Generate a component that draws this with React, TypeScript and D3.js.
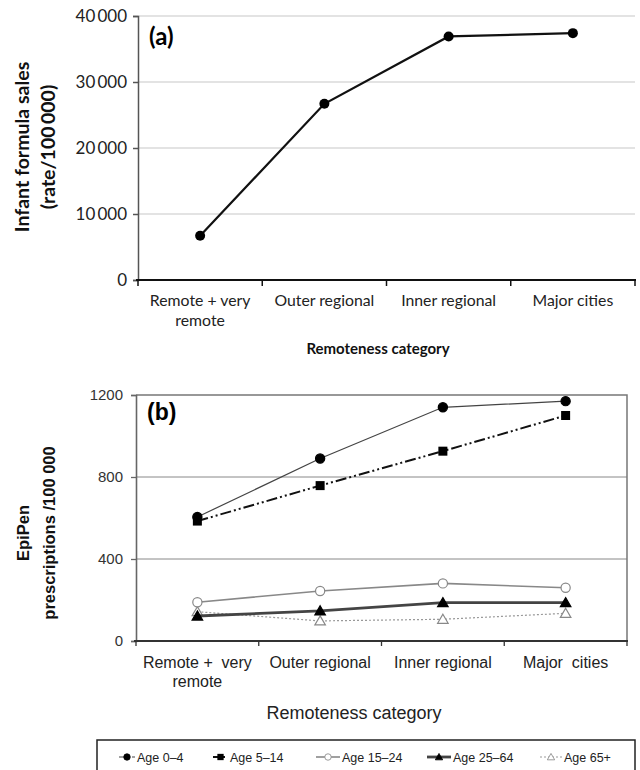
import React, { useEffect, useRef } from "react";
import * as d3 from "d3";

// Panel (a): infant formula sales by remoteness
const categories = ["Remote + very remote", "Outer regional", "Inner regional", "Major cities"];
const labelLinesA = [["Remote + very", "remote"], ["Outer regional"], ["Inner regional"], ["Major cities"]];
const labelLinesB = [["Remote +  very", "remote"], ["Outer regional"], ["Inner regional"], ["Major  cities"]];
const formulaSales = [6700, 26700, 36900, 37400];
const ticksA = [0, 10000, 20000, 30000, 40000];

// Panel (b): EpiPen prescriptions by age group
const ageGroups = ["Age 0–4", "Age 5–14", "Age 15–24", "Age 25–64", "Age 65+"];
const age0to4 = [605, 890, 1140, 1170];
const age5to14 = [585, 758, 926, 1100];
const age15to24 = [189, 244, 281, 260];
const age25to64 = [122, 147, 187, 187];
const age65plus = [143, 98, 106, 135];
const ticksB = [0, 400, 800, 1200];

const seriesB = [age0to4, age5to14, age15to24, age25to64, age65plus];

const styles = [
  { stroke: "#444", width: 1.2, dash: null, marker: "circle", fill: "#000", mstroke: "#000" },
  { stroke: "#111", width: 2, dash: "11,3,2,3,2,3", marker: "square", fill: "#000", mstroke: "#000" },
  { stroke: "#888", width: 1.6, dash: null, marker: "circle", fill: "#fff", mstroke: "#888" },
  { stroke: "#444", width: 2.8, dash: null, marker: "triangle", fill: "#000", mstroke: "#000" },
  { stroke: "#999", width: 1.2, dash: "2,2", marker: "triangle", fill: "#fff", mstroke: "#888" },
];

const calibri = "Lato, 'Open Sans', sans-serif";
const arial = "'Liberation Sans', Arial, sans-serif";

const App: React.FC = () => {
  const ref = useRef<SVGSVGElement>(null);

  useEffect(() => {
    if (!ref.current) return;
    const svg = d3.select(ref.current);
    svg.selectAll("*").remove();

    // ---------- panel (a)
    const xA = d3.scaleBand().domain(categories).range([138, 635]);
    const yA = d3.scaleLinear().domain([0, 40000]).range([280, 16]);
    const a = svg.append("g");

    a.selectAll("line.grid")
      .data(ticksA.slice(1))
      .enter()
      .append("line")
      .attr("x1", 138)
      .attr("x2", 635)
      .attr("y1", (d) => yA(d))
      .attr("y2", (d) => yA(d))
      .attr("stroke", "#c8c8c8")
      .attr("stroke-width", 1.2);

    const axA = a
      .append("g")
      .attr("transform", "translate(138,0)")
      .call(
        d3
          .axisLeft(yA)
          .tickValues(ticksA)
          .tickSize(5)
          .tickPadding(6)
          .tickFormat((d) => d3.format(",")(d as number).replace(",", "\u2009"))
      );
    axA.select(".domain").attr("stroke", "#555").attr("stroke-width", 1.5);
    axA.selectAll(".tick line").attr("stroke", "#555").attr("stroke-width", 1.5);
    axA.selectAll(".tick text").attr("font-family", calibri).attr("font-size", 17).attr("fill", "#222");

    a.append("line")
      .attr("x1", 136)
      .attr("x2", 636)
      .attr("y1", 280)
      .attr("y2", 280)
      .attr("stroke", "#111")
      .attr("stroke-width", 2);
    const bounds = [...categories.map((c) => xA(c) || 0), xA.range()[1]];
    a.selectAll("line.xt")
      .data(bounds)
      .enter()
      .append("line")
      .attr("x1", (d) => d)
      .attr("x2", (d) => d)
      .attr("y1", 280)
      .attr("y2", 286)
      .attr("stroke", "#111")
      .attr("stroke-width", 1.5);

    categories.forEach((c, i) => {
      const t = a
        .append("text")
        .attr("text-anchor", "middle")
        .attr("font-family", calibri)
        .attr("font-size", 15.8)
        .attr("fill", "#222");
      labelLinesA[i].forEach((ln, j) => {
        t.append("tspan")
          .attr("x", (xA(c) || 0) + xA.bandwidth() / 2)
          .attr("y", 306 + j * 20)
          .text(ln);
      });
    });

    const lineA = d3
      .line<number>()
      .x((_, i) => (xA(categories[i]) || 0) + xA.bandwidth() / 2)
      .y((d) => yA(d));
    a.append("path")
      .attr("d", lineA(formulaSales))
      .attr("fill", "none")
      .attr("stroke", "#111")
      .attr("stroke-width", 2.2);
    a.selectAll("circle.pt")
      .data(formulaSales)
      .enter()
      .append("circle")
      .attr("cx", (_, i) => (xA(categories[i]) || 0) + xA.bandwidth() / 2)
      .attr("cy", (d) => yA(d))
      .attr("r", 5)
      .attr("fill", "#000");

    a.append("text")
      .attr("x", 149)
      .attr("y", 45)
      .attr("font-family", calibri)
      .attr("font-weight", "bold")
      .attr("font-size", 24)
      .text("(a)");

    const ylA = a
      .append("text")
      .attr("transform", "translate(0,147) rotate(-90)")
      .attr("text-anchor", "middle")
      .attr("font-family", calibri)
      .attr("font-weight", "bold")
      .attr("font-size", 19.5)
      .attr("fill", "#111");
    ylA.append("tspan").attr("x", 0).attr("y", 29).text("Infant formula sales");
    ylA.append("tspan").attr("x", 0).attr("y", 55).text("(rate/100\u2009000)");

    a.append("text")
      .attr("x", 378)
      .attr("y", 354)
      .attr("text-anchor", "middle")
      .attr("font-family", calibri)
      .attr("font-weight", "bold")
      .attr("font-size", 15)
      .attr("fill", "#111")
      .text("Remoteness category");

    // ---------- panel (b)
    const xB = d3.scaleBand().domain(categories).range([136, 627]);
    const yB = d3.scaleLinear().domain([0, 1200]).range([641, 395]);
    const b = svg.append("g");

    b.selectAll("line.grid")
      .data(ticksB.slice(1, -1))
      .enter()
      .append("line")
      .attr("x1", 136)
      .attr("x2", 627)
      .attr("y1", (d) => yB(d))
      .attr("y2", (d) => yB(d))
      .attr("stroke", "#888")
      .attr("stroke-width", 1);
    b.append("path")
      .attr("d", `M136,${yB(1200)}H627V${yB(0)}`)
      .attr("fill", "none")
      .attr("stroke", "#777")
      .attr("stroke-width", 1.5);

    const axB = b
      .append("g")
      .attr("transform", "translate(136,0)")
      .call(d3.axisLeft(yB).tickValues(ticksB).tickSize(5).tickPadding(8).tickFormat(d3.format("d")));
    axB.select(".domain").attr("stroke", "#666").attr("stroke-width", 1.6);
    axB.selectAll(".tick line").attr("stroke", "#666").attr("stroke-width", 1.3);
    axB.selectAll(".tick text").attr("font-family", arial).attr("font-size", 15).attr("fill", "#333");

    b.append("line")
      .attr("x1", 134)
      .attr("x2", 628)
      .attr("y1", 641)
      .attr("y2", 641)
      .attr("stroke", "#333")
      .attr("stroke-width", 1.8);
    const boundsB = [...categories.map((c) => xB(c) || 0), xB.range()[1]];
    b.selectAll("line.xt")
      .data(boundsB)
      .enter()
      .append("line")
      .attr("x1", (d) => d)
      .attr("x2", (d) => d)
      .attr("y1", 641)
      .attr("y2", 646)
      .attr("stroke", "#333")
      .attr("stroke-width", 1.3);

    categories.forEach((c, i) => {
      const t = b
        .append("text")
        .attr("text-anchor", "middle")
        .attr("font-family", arial)
        .attr("font-size", 16)
        .attr("fill", "#222")
        .style("white-space", "pre");
      labelLinesB[i].forEach((ln, j) => {
        t.append("tspan")
          .attr("x", (xB(c) || 0) + xB.bandwidth() / 2)
          .attr("y", 668 + j * 19)
          .text(ln);
      });
    });

    const cx = (i: number) => (xB(categories[i]) || 0) + xB.bandwidth() / 2;
    const lineB = d3
      .line<number>()
      .x((_, i) => cx(i))
      .y((d) => yB(d));

    const drawMarker = (g: d3.Selection<SVGGElement, unknown, null, undefined>, kind: string, x: number, y: number, fill: string, stroke: string) => {
      if (kind === "circle") {
        g.append("circle").attr("cx", x).attr("cy", y).attr("r", 4.6).attr("fill", fill).attr("stroke", stroke).attr("stroke-width", 1.2);
      } else if (kind === "square") {
        g.append("rect").attr("x", x - 4.5).attr("y", y - 4.5).attr("width", 9).attr("height", 9).attr("fill", fill);
      } else {
        const sym = d3.symbol().type(d3.symbolTriangle).size(48);
        g.append("path")
          .attr("d", sym()!)
          .attr("transform", `translate(${x},${y + 1})`)
          .attr("fill", fill)
          .attr("stroke", stroke)
          .attr("stroke-width", 1.2);
      }
    };

    // draw back to front so the top series sit above the clustered ones
    [4, 3, 2, 1, 0].forEach((k) => {
      const s = styles[k];
      const g = b.append("g");
      g.append("path")
        .attr("d", lineB(seriesB[k]))
        .attr("fill", "none")
        .attr("stroke", s.stroke)
        .attr("stroke-width", s.width)
        .attr("stroke-dasharray", s.dash);
      seriesB[k].forEach((v, i) => drawMarker(g as any, s.marker, cx(i), yB(v), s.fill, s.mstroke));
    });

    b.append("text")
      .attr("x", 147)
      .attr("y", 420)
      .attr("font-family", arial)
      .attr("font-weight", "bold")
      .attr("font-size", 23)
      .text("(b)");

    const ylB = b
      .append("text")
      .attr("transform", "translate(0,533) rotate(-90)")
      .attr("text-anchor", "middle")
      .attr("font-family", arial)
      .attr("font-weight", "bold")
      .attr("font-size", 16.5)
      .attr("fill", "#111");
    ylB.append("tspan").attr("x", 0).attr("y", 29).text("EpiPen");
    ylB.append("tspan").attr("x", 0).attr("y", 55).text("prescriptions /100 000");

    b.append("text")
      .attr("x", 354)
      .attr("y", 719)
      .attr("text-anchor", "middle")
      .attr("font-family", arial)
      .attr("font-size", 18)
      .attr("fill", "#222")
      .text("Remoteness category");

    // ---------- legend
    const lg = svg.append("g");
    lg.append("rect")
      .attr("x", 97)
      .attr("y", 740)
      .attr("width", 538)
      .attr("height", 40)
      .attr("fill", "#fff")
      .attr("stroke", "#222")
      .attr("stroke-width", 1.5);
    const legendX = [119, 213, 316, 427, 540];
    const legendW = [16, 15, 24, 24, 22];
    ageGroups.forEach((name, k) => {
      const s = styles[k];
      const g = lg.append("g");
      const x0 = legendX[k];
      const w = legendW[k];
      g.append("line")
        .attr("x1", x0)
        .attr("x2", x0 + w)
        .attr("y1", 757)
        .attr("y2", 757)
        .attr("stroke", s.stroke)
        .attr("stroke-width", s.width)
        .attr("stroke-dasharray", k === 0 ? "5,3,2,3" : k === 1 ? "7,3,2,3" : s.dash);
      const sm = lg.append("g").attr("transform", `translate(${x0 + w / 2},757) scale(0.7)`);
      drawMarker(sm as any, s.marker, 0, 0, s.fill, s.mstroke);
      g.append("text")
        .attr("x", x0 + w + 2)
        .attr("y", 761.5)
        .attr("font-family", arial)
        .attr("font-size", 12.5)
        .attr("fill", "#222")
        .text(name);
    });
  }, []);

  return (
    <svg
      ref={ref}
      width={640}
      height={770}
      style={{ position: "absolute", left: 0, top: 0, background: "#fff" }}
    />
  );
};

export default App;
